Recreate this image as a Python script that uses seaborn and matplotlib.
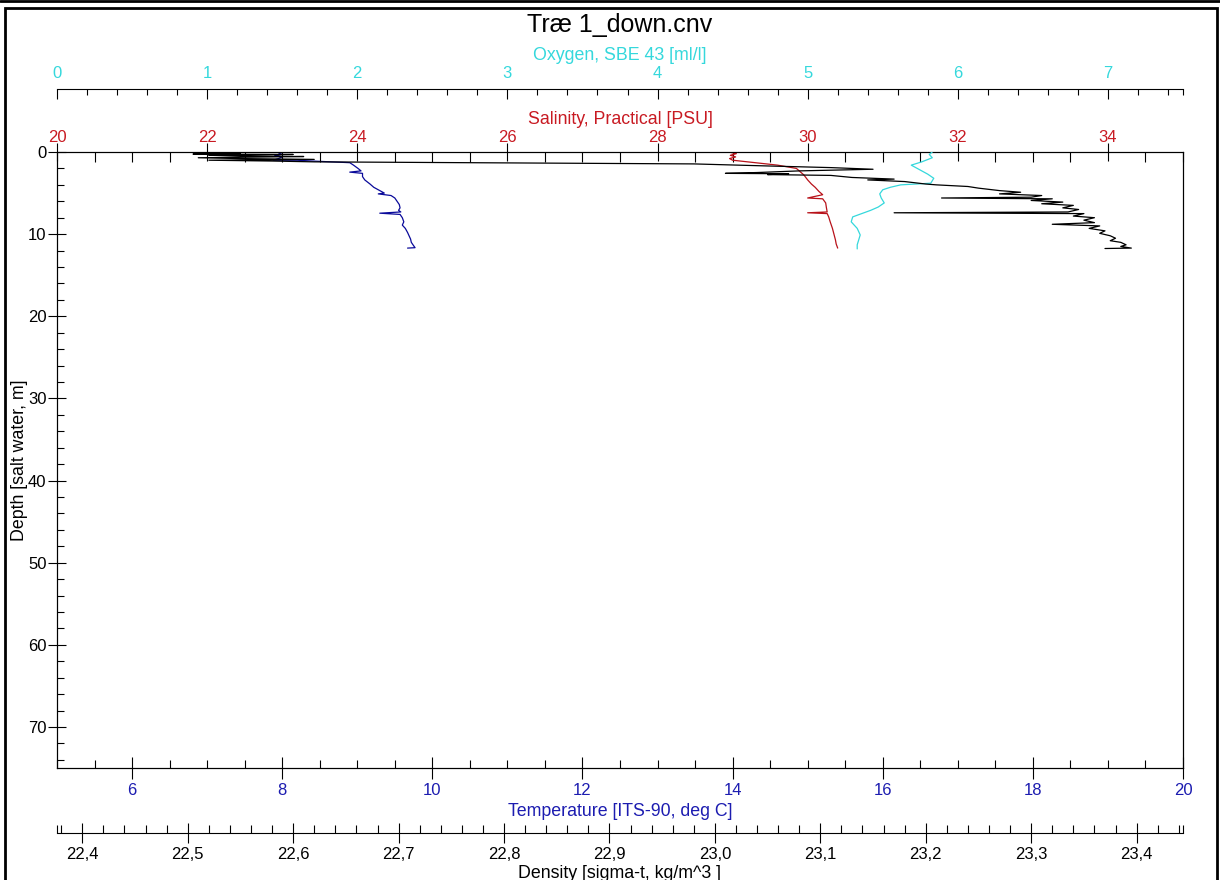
import numpy as np
import matplotlib
matplotlib.use("Agg")
import matplotlib.pyplot as plt
from matplotlib.ticker import MultipleLocator, FixedLocator, FuncFormatter
from matplotlib.lines import Line2D
from matplotlib.patches import Rectangle
import seaborn as sns

# --- profile data (down cast, depth in m) ---
temp_depth = [0.1, 0.3, 0.45, 0.6, 0.8, 1.0, 1.0, 1.1, 1.3, 1.6, 2.0, 2.3, 2.45, 2.6, 3.0,
              3.4, 3.9, 4.3, 4.7, 5.0, 5.1, 5.3, 5.6, 6.0, 6.4, 6.8, 7.1, 7.3, 7.45, 7.6,
              8.0, 8.5, 8.9, 9.3, 9.8, 10.2, 10.6, 11.0, 11.4, 11.65, 11.7]
temp = [7.95, 8.0, 7.9, 8.0, 7.95, 7.88, 8.2, 8.4, 8.9, 8.95, 9.01, 9.05, 8.9, 9.07, 9.07,
        9.1, 9.17, 9.22, 9.3, 9.36, 9.28, 9.45, 9.5, 9.53, 9.56, 9.57, 9.55, 9.58, 9.3, 9.57,
        9.6, 9.62, 9.6, 9.64, 9.67, 9.69, 9.71, 9.72, 9.75, 9.77, 9.67]

sal_depth = [0.0, 0.2, 0.4, 0.6, 0.8, 1.0, 1.3, 1.6, 2.0, 2.4, 2.8, 3.4, 3.9, 4.3, 4.8,
             5.2, 5.6, 5.7, 6.2, 6.8, 7.3, 7.4, 7.5, 7.9, 8.5, 9.3, 10.0, 10.7, 11.2, 11.7]
sal = [28.95, 29.05, 28.97, 29.04, 28.96, 29.0, 29.3, 29.6, 29.85, 29.9, 29.95, 30.0, 30.05,
       30.1, 30.15, 30.2, 30.0, 30.2, 30.24, 30.25, 30.26, 30.0, 30.26, 30.28, 30.3, 30.33,
       30.35, 30.37, 30.38, 30.4]

oxy_depth = [0.0, 0.3, 0.7, 1.2, 1.6, 2.2, 2.7, 3.2, 3.8, 4.0, 4.3, 4.6, 5.1, 5.6, 6.2,
             6.7, 7.1, 7.5, 7.9, 8.5, 9.3, 10.1, 10.7, 11.3, 11.8]
oxy = [5.83, 5.81, 5.83, 5.76, 5.69, 5.75, 5.8, 5.84, 5.82, 5.62, 5.55, 5.5, 5.48, 5.49,
       5.51, 5.47, 5.42, 5.36, 5.3, 5.29, 5.33, 5.35, 5.34, 5.33, 5.33]

dens_depth = [0.15, 0.25, 0.3, 0.4, 0.5, 0.55, 0.7, 0.8, 0.9, 1.0, 1.1, 1.2, 1.45, 1.7, 1.9,
              2.1, 2.3, 2.5, 2.6, 2.65, 2.75, 2.85, 3.1, 3.3, 3.4, 3.6, 3.9, 4.0, 4.2, 4.4,
              4.7, 4.9, 5.1, 5.3, 5.5, 5.6, 5.7, 5.9, 6.1, 6.3, 6.5, 6.8, 7.0, 7.3, 7.4,
              7.5, 7.8, 8.0, 8.3, 8.6, 8.8, 9.0, 9.3, 9.6, 9.9, 10.2, 10.5, 10.8, 11.0,
              11.3, 11.5, 11.7, 11.75]
dens = [22.55, 22.505, 22.60, 22.52, 22.555, 22.61, 22.51, 22.55, 22.62, 22.52, 22.58, 22.62,
        22.98, 23.05, 23.11, 23.15, 23.08, 23.04, 23.01, 23.07, 23.05, 23.11, 23.13, 23.17,
        23.145, 23.18, 23.20, 23.21, 23.24, 23.25, 23.27, 23.29, 23.27, 23.31, 23.30, 23.215,
        23.32, 23.30, 23.33, 23.31, 23.34, 23.33, 23.345, 23.335, 23.17, 23.35, 23.34, 23.36,
        23.35, 23.36, 23.32, 23.365, 23.355, 23.37, 23.365, 23.375, 23.38, 23.375, 23.385,
        23.39, 23.385, 23.395, 23.37]

title = "Træ 1_down.cnv"
depth_label = "Depth [salt water, m]"
temp_label = "Temperature [ITS-90, deg C]"
sal_label = "Salinity, Practical [PSU]"
oxy_label = "Oxygen, SBE 43 [ml/l]"
dens_label = "Density [sigma-t, kg/m^3 ]"

temp_c = "#1c1cb0"
sal_c = "#c81a22"
oxy_c = "#35d8dc"

sns.set_style("ticks", {"axes.edgecolor": "black", "xtick.color": "black",
                        "ytick.color": "black", "axes.linewidth": 0.8,
                        "text.color": "black", "axes.labelcolor": "black"})
plt.rcParams['font.family'] = ['Liberation Sans', 'DejaVu Sans']

tick_fs = 12
lab_fs = 12.8

fig = plt.figure(figsize=(12.2, 8.8), dpi=100)
ax = fig.add_axes([57 / 1220, 1 - 768 / 880, 1126 / 1220, 616 / 880])
ax_sal = ax.twiny()
ax_oxy = ax.twiny()
ax_dens = ax.twiny()

lw = 0.9
sns.lineplot(x=temp, y=temp_depth, sort=False, estimator=None, color="#0a0a9a", lw=lw, ax=ax)
sns.lineplot(x=sal, y=sal_depth, sort=False, estimator=None, color="#b8121a", lw=lw, ax=ax_sal)
sns.lineplot(x=oxy, y=oxy_depth, sort=False, estimator=None, color=oxy_c, lw=lw, ax=ax_oxy)
sns.lineplot(x=dens, y=dens_depth, sort=False, estimator=None, color="black", lw=lw, ax=ax_dens)

# main axes: temperature (bottom) and depth (left)
ax.set_xlim(5, 20)
ax.set_ylim(75, 0)
ax.xaxis.set_major_locator(MultipleLocator(2))
ax.xaxis.set_minor_locator(MultipleLocator(0.5))
ax.yaxis.set_major_locator(MultipleLocator(10))
ax.yaxis.set_minor_locator(MultipleLocator(2))
ax.tick_params(axis='x', which='major', direction='inout', length=15.8, width=0.8,
               labelsize=tick_fs, labelcolor=temp_c, pad=3)
ax.tick_params(axis='x', which='minor', direction='in', length=5.8, width=0.8)
ax.tick_params(axis='y', which='major', direction='inout', length=13, width=0.8,
               labelsize=tick_fs, labelcolor='black', pad=1)
ax.tick_params(axis='y', which='minor', direction='in', length=5, width=0.8)
ax.set_xlabel(temp_label, color=temp_c, fontsize=lab_fs, labelpad=3.5)
ax.set_ylabel(depth_label, fontsize=lab_fs, labelpad=0)

# salinity on the top spine
ax_sal.set_xlim(20, 35)
ax_sal.xaxis.set_major_locator(MultipleLocator(2))
ax_sal.xaxis.set_minor_locator(MultipleLocator(0.5))
ax_sal.tick_params(axis='x', which='major', direction='inout', length=13, width=0.8,
                   labelsize=tick_fs, labelcolor=sal_c, pad=-1.8)
ax_sal.tick_params(axis='x', which='minor', direction='in', length=7, width=0.8)
ax_sal.set_xlabel(sal_label, color=sal_c, fontsize=lab_fs, labelpad=4.4)

# oxygen on a detached axis above
ax_oxy.set_xlim(0, 7.5)
for s in ['bottom', 'left', 'right']:
    ax_oxy.spines[s].set_visible(False)
ax_oxy.spines['top'].set_position(('outward', 45.4))
ax_oxy.xaxis.set_major_locator(MultipleLocator(1))
ax_oxy.xaxis.set_minor_locator(FixedLocator(list(np.arange(0.2, 7.45, 0.2)) + [7.5]))
ax_oxy.tick_params(axis='x', which='major', direction='in', length=7.2, width=0.8,
                   labelsize=tick_fs, labelcolor=oxy_c, pad=5.4)
ax_oxy.tick_params(axis='x', which='minor', direction='in', length=4.3, width=0.8)
ax_oxy.set_xlabel(oxy_label, color=oxy_c, fontsize=lab_fs, labelpad=4.4)

# density on a detached axis below
ax_dens.set_xlim(22.376, 23.444)
for s in ['top', 'left', 'right']:
    ax_dens.spines[s].set_visible(False)
ax_dens.xaxis.set_ticks_position('bottom')
ax_dens.xaxis.set_label_position('bottom')
ax_dens.spines['bottom'].set_position(('outward', 46.8))
ax_dens.xaxis.set_major_locator(MultipleLocator(0.1))
ax_dens.xaxis.set_minor_locator(
    FixedLocator([22.376] + list(np.round(np.arange(22.38, 23.441, 0.02), 2)) + [23.444]))
ax_dens.xaxis.set_major_formatter(FuncFormatter(lambda v, p: f"{v:.1f}".replace('.', ',')))
ax_dens.tick_params(axis='x', which='major', direction='inout', length=15, width=0.8,
                    labelsize=tick_fs, labelcolor='black', pad=2.5)
ax_dens.tick_params(axis='x', which='minor', direction='in', length=5.8, width=0.8)
ax_dens.set_xlabel(dens_label, fontsize=lab_fs, labelpad=2.2)

fig.text(620 / 1220, 1 - 25 / 880, title, ha='center', va='center', fontsize=18,
         color='black')

# window frame
fig.add_artist(Rectangle((5 / 1220, -0.01), 1212 / 1220, 1.01 - 8 / 880,
                         transform=fig.transFigure, fill=False, lw=2, ec='black'))
fig.add_artist(Line2D([0, 1], [1 - 1.2 / 880] * 2, transform=fig.transFigure,
                      lw=2, color='black'))

fig.savefig("out.png", dpi=100)
